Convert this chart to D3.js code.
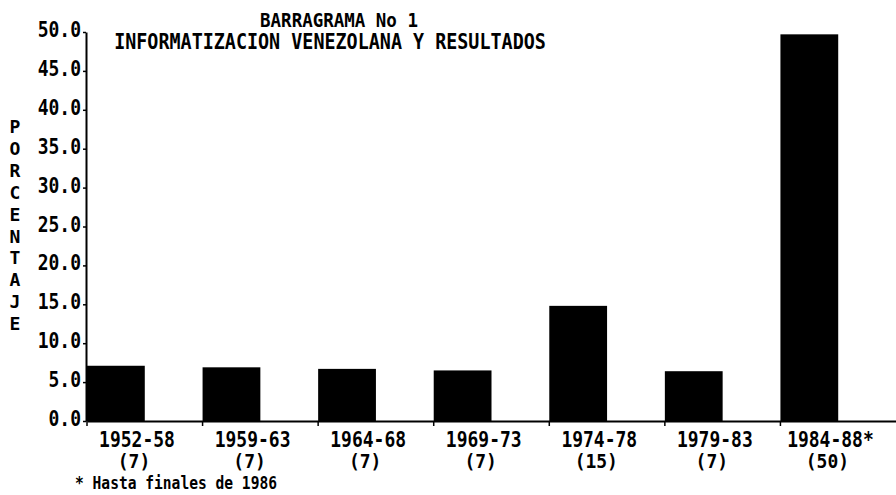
<!DOCTYPE html>
<html>
<head>
<meta charset="utf-8">
<script src="https://cdn.jsdelivr.net/npm/d3@7"></script>
<style>
    body { margin: 0; background: #fff; }
    text { font-family: 'DejaVu Sans Mono', 'Liberation Mono', monospace; fill: #000; }
</style>
</head>
<body>
<div id="chart"></div>
<script>
var width = 896
var height = 495

// data
var periods = ['1952-58', '1959-63', '1964-68', '1969-73', '1974-78', '1979-83', '1984-88*']
var counts = ['(7)', '(7)', '(7)', '(7)', '(15)', '(7)', '(50)']
var percents = [7.1, 6.9, 6.7, 6.5, 14.8, 6.4, 49.7]
var yTicks = [0, 5, 10, 15, 20, 25, 30, 35, 40, 45, 50]
var titleLines = ['BARRAGRAMA No 1', 'INFORMATIZACION VENEZOLANA Y RESULTADOS']
var yLabel = 'PORCENTAJE'
var footnote = '* Hasta finales de 1986'

var svg = d3.select('#chart').append('svg')
    .attr('width', width)
    .attr('height', height)

var x = d3.scaleBand()
    .domain(periods)
    .range([87, 896])

var y = d3.scaleLinear()
    .domain([0, 50])
    .range([421, 32])

var bw = x.bandwidth()

// bars sit on the left half of each band
svg.selectAll('.bar')
    .data(percents)
    .enter().append('rect')
    .attr('class', 'bar')
    .attr('x', function(d, i) { return x(periods[i]) })
    .attr('y', function(d) { return y(d) })
    .attr('width', bw / 2)
    .attr('height', function(d) { return y(0) - y(d) })
    .attr('fill', '#000')

// y axis
var yAxis = svg.append('g')
    .attr('transform', 'translate(86,0)')
    .call(d3.axisLeft(y).tickValues(yTicks).tickFormat(d3.format('.1f')).tickSize(3).tickSizeOuter(0))

yAxis.select('.domain').attr('stroke-width', 2)
yAxis.selectAll('.tick line').attr('stroke-width', 1.5)
yAxis.selectAll('.tick text')
    .attr('x', -5)
    .attr('dy', '.22em')
    .attr('transform', 'scale(1,1.15)')
    .style('font-size', '18px')
    .style('font-weight', 'bold')

// x axis, ticks moved to band starts
var xAxis = svg.append('g')
    .attr('transform', 'translate(0,' + y(0) + ')')
    .call(d3.axisBottom(x).tickSize(5).tickSizeOuter(0).tickFormat(''))

xAxis.select('.domain').attr('stroke-width', 2)
xAxis.selectAll('.tick line')
    .attr('x1', -bw / 2)
    .attr('x2', -bw / 2)
    .attr('stroke-width', 1.5)

var xLabels = xAxis.selectAll('.tick').append('g')
    .attr('transform', 'translate(' + (50 - bw / 2) + ',0)')

xLabels.append('text')
    .attr('text-anchor', 'middle')
    .attr('transform', 'translate(0,26) scale(1,1.15)')
    .style('font-size', '18px')
    .style('font-weight', 'bold')
    .text(function(d) { return d })

xLabels.append('text')
    .attr('text-anchor', 'middle')
    .attr('transform', 'translate(-3,47) scale(1,1.05)')
    .style('font-size', '18px')
    .style('font-weight', 'bold')
    .text(function(d, i) { return counts[i] })

// title
svg.selectAll('.title')
    .data(titleLines)
    .enter().append('text')
    .attr('class', 'title')
    .attr('text-anchor', 'middle')
    .attr('transform', function(d, i) {
        return i === 0 ? 'translate(339,27) scale(1,1.1)' : 'translate(330,49) scale(1,1.15)' })
    .style('font-size', function(d, i) { return i === 0 ? '17.5px' : '18.4px' })
    .style('font-weight', 'bold')
    .text(function(d) { return d })

// vertical axis title, one letter per line
svg.selectAll('.ylab')
    .data(yLabel.split(''))
    .enter().append('text')
    .attr('class', 'ylab')
    .attr('text-anchor', 'middle')
    .attr('x', 15)
    .attr('y', function(d, i) { return 133 + i * 21.9 })
    .style('font-size', '18px')
    .style('font-weight', 'bold')
    .text(function(d) { return d })

svg.append('text')
    .attr('transform', 'translate(75,489) scale(1,1.15)')
    .style('font-size', '14.6px')
    .style('font-weight', 'bold')
    .text(footnote)
</script>
</body>
</html>
